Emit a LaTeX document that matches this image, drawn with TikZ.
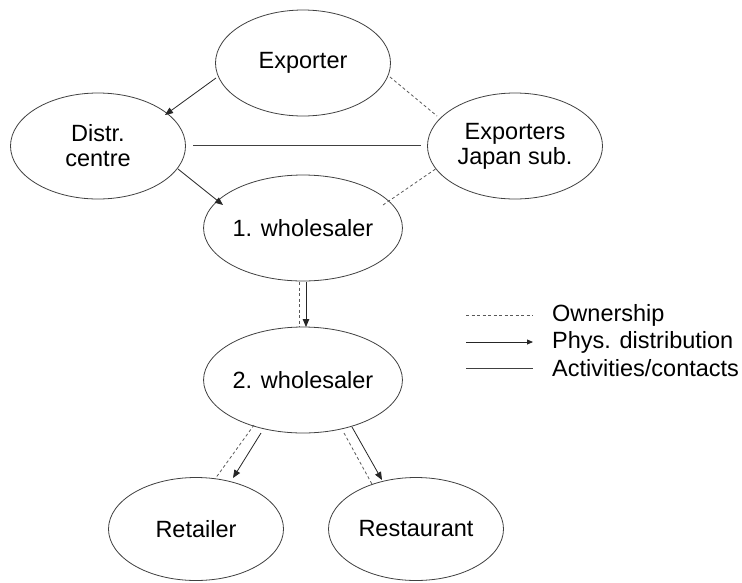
\documentclass[tikz,border=0pt]{standalone}
\usepackage{fontspec}
\setmainfont{Liberation Sans}
\usetikzlibrary{shapes.geometric,arrows.meta}
\begin{document}
\begin{tikzpicture}[x=1pt,y=-1pt,
  oval/.style={ellipse,draw=black!75,line width=0.8pt,minimum width=175pt,minimum height=106pt,inner sep=0pt,font=\fontsize{23.5}{27}\selectfont,align=center},
  own/.style={draw=black!65,line width=0.8pt,dash pattern=on 3pt off 2.5pt},
  phys/.style={draw=black!85,line width=0.8pt,-{Triangle[length=8pt,width=6.5pt]}},
  act/.style={draw=black!75,line width=0.8pt},
  leg/.style={anchor=west,font=\fontsize{23.5}{27}\selectfont,inner sep=0pt}]
\useasboundingbox (0,0) rectangle (742,582);
\node[oval] (exp) at (303,63) {Exporter};
\node[oval] (dc) at (98,146) {Distr.\\[-2pt]centre};
\node[oval] (ejs) at (515,146) {Exporters\\[-2pt]Japan sub.};
\node[oval] (w1) at (303,228) {1. wholesaler};
\node[oval] (w2) at (303,380) {2. wholesaler};
\node[oval,minimum height=103pt] (ret) at (196,529) {Retailer};
\node[oval,minimum height=103pt] (rest) at (416,529) {Restaurant};
% connectors
\draw[phys] ([shift={(-87,15)}]exp.center) -- ([shift={(67,-31)}]dc.center);
\draw[act] ([shift={(95,-1)}]dc.center) -- ([shift={(-94,-1)}]ejs.center);
\draw[own] ([shift={(87,14)}]exp.center) -- ([shift={(-78,-30)}]ejs.center);
\draw[phys] ([shift={(80,23)}]dc.center) -- ([shift={(-80,-23)}]w1.center);
\draw[own] ([shift={(80,-23)}]w1.center) -- ([shift={(-78,22)}]ejs.center);
\draw[phys] ([shift={(3,54)}]w1.center) -- ([shift={(3,-53)}]w2.center);
\draw[own] ([shift={(-4,54)}]w1.center) -- ([shift={(-4,-53)}]w2.center);
\draw[phys] ([shift={(-42,53)}]w2.center) -- ([shift={(37,-51)}]ret.center);
\draw[own] ([shift={(-49,45)}]w2.center) -- ([shift={(19,-50)}]ret.center);
\draw[phys] ([shift={(49,47)}]w2.center) -- ([shift={(-34,-49)}]rest.center);
\draw[own] ([shift={(41,53)}]w2.center) -- ([shift={(-43,-43)}]rest.center);
% legend
\coordinate (l1a) at (466,315); \coordinate (l1b) at (533,315);
\coordinate (l2a) at (466,342); \coordinate (l2b) at (533,342);
\coordinate (l3a) at (466,368); \coordinate (l3b) at (533,368);
\draw[own] (l1a) -- (l1b);
\draw[phys,-{Triangle[length=6pt,width=5pt]}] (l2a) -- (l2b);
\draw[act] (l3a) -- (l3b);
\node[leg] (t1) at (552,315) {Ownership};
\node[leg] (t2) at (552,342) {Phys. distribution};
\node[leg] (t3) at (552,368) {Activities/contacts};
\end{tikzpicture}
\end{document}
